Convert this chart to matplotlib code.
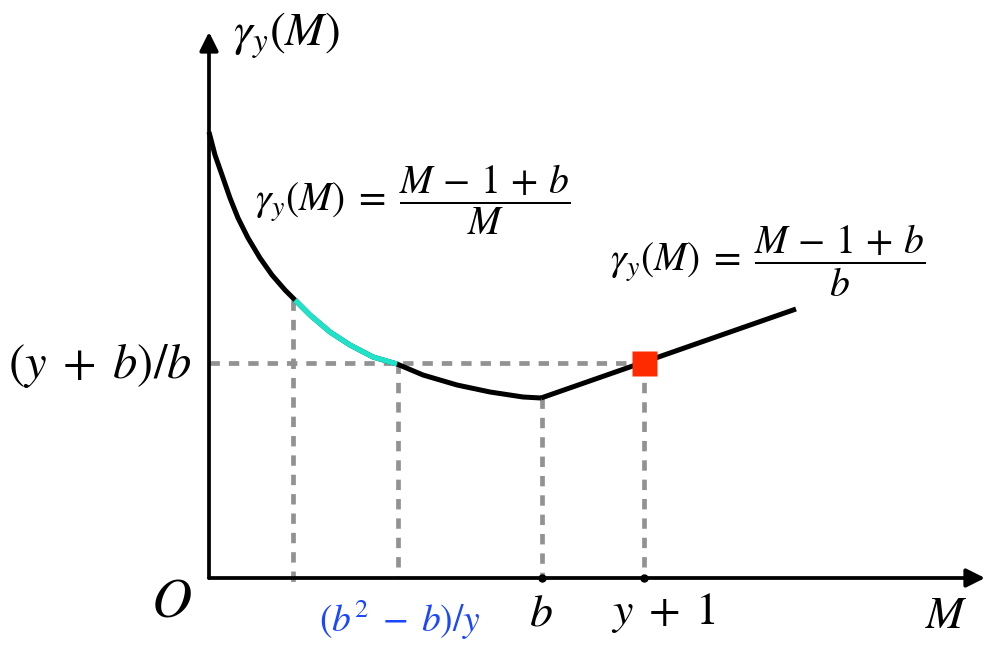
import numpy as np
import matplotlib
matplotlib.use("Agg")
import matplotlib.pyplot as plt

plt.rcParams['mathtext.fontset'] = 'stix'
plt.rcParams['font.family'] = ['STIXGeneral', 'DejaVu Serif']

# curve (M, gamma), arbitrary units
curve_m = [0.00, 0.06, 0.13, 0.21, 0.29, 0.39, 0.51, 0.63, 0.76, 0.86,
           1.01, 1.21, 1.41, 1.64, 1.88, 2.14, 2.48, 2.81, 3.14, 3.32]
curve_g = [4.46, 4.23, 4.03, 3.80, 3.60, 3.40, 3.20, 3.03, 2.88, 2.78,
           2.63, 2.46, 2.33, 2.21, 2.14, 2.03, 1.93, 1.86, 1.81, 1.80]
# highlighted part of the curve
cyan_m = [0.86, 1.01, 1.21, 1.41, 1.64, 1.88]
cyan_g = [2.78, 2.63, 2.46, 2.33, 2.21, 2.14]
# linear branch for M > b
line_m = [3.32, 5.87]
line_g = [1.80, 2.69]

m_left = 0.84      # first dashed guide
m_low = 1.89       # (b^2-b)/y
m_b = 3.33         # b
m_y1 = 4.35        # y+1
g_level = 2.15     # (y+b)/b

x_tip = 7.76
y_tip = 5.46

fig = plt.figure(figsize=(9.97, 6.57), dpi=100)
ax = fig.add_axes([0, 0, 1, 1])
ax.set_xlim(-2.09, 7.88)
ax.set_ylim(-0.79, 5.78)
ax.axis('off')

# axes with arrows
for tip in [(x_tip, 0), (0, y_tip)]:
    ax.annotate('', xy=tip, xytext=(0, 0),
                arrowprops=dict(arrowstyle='-|>', lw=2.7, color='k', mutation_scale=28,
                                shrinkA=0, shrinkB=0))

# dashed guides
dash = dict(color='#929292', lw=3.4, dashes=(2.2, 1.9), zorder=1)
ax.plot([0, m_y1], [g_level, g_level], **dash)
ax.plot([m_left, m_left], [cyan_g[0], -0.08], **dash)
ax.plot([m_low, m_low], [g_level, 0], **dash)
ax.plot([m_b, m_b], [curve_g[-1], 0], **dash)
ax.plot([m_y1, m_y1], [g_level, 0], **dash)

# curve
ax.plot(curve_m, curve_g, color='k', lw=3.6, solid_capstyle='butt',
        solid_joinstyle='round', zorder=3)
ax.plot(cyan_m, cyan_g, color='#1fe3c9', lw=3.8, solid_capstyle='butt',
        solid_joinstyle='round', zorder=4)
ax.plot(line_m, line_g, color='k', lw=3.6, solid_capstyle='butt', zorder=3)
ax.plot([m_y1], [g_level], marker='s', ms=18, color='#ff2a00', mec='none', zorder=5)
ax.plot([m_b, m_y1], [0, 0], 'o', color='k', ms=5, zorder=5)

# labels
ax.text(0.24, 5.42, r'$\gamma_y(M)$', fontsize=34, ha='left', va='center')
ax.text(-0.17, 2.13, r'$(y\;+\;b)/b$', fontsize=35, ha='right', va='center')
ax.text(-0.38, -0.25, r'$O$', fontsize=40, ha='center', va='center')
ax.text(1.91, -0.42, r'$(b^2\;-\;b)/y$', fontsize=27, color='#1a47ff', ha='center', va='center')
ax.text(3.32, -0.37, r'$b$', fontsize=33, ha='center', va='center')
ax.text(4.54, -0.35, r'$y\;+\;1$', fontsize=33, ha='center', va='center')
ax.text(7.37, -0.39, r'$M$', fontsize=33, ha='center', va='center')

ax.text(0.46, 3.78, r'$\gamma_y(M)\;=\;\dfrac{M\,-\,1\,+\,b}{M}$', fontsize=28.5,
        ha='left', va='center')
ax.text(4.01, 3.17, r'$\gamma_y(M)\;=\;\dfrac{M\,-\,1\,+\,b}{b}$', fontsize=28.5,
        ha='left', va='center')

fig.savefig('out.png', dpi=100)
